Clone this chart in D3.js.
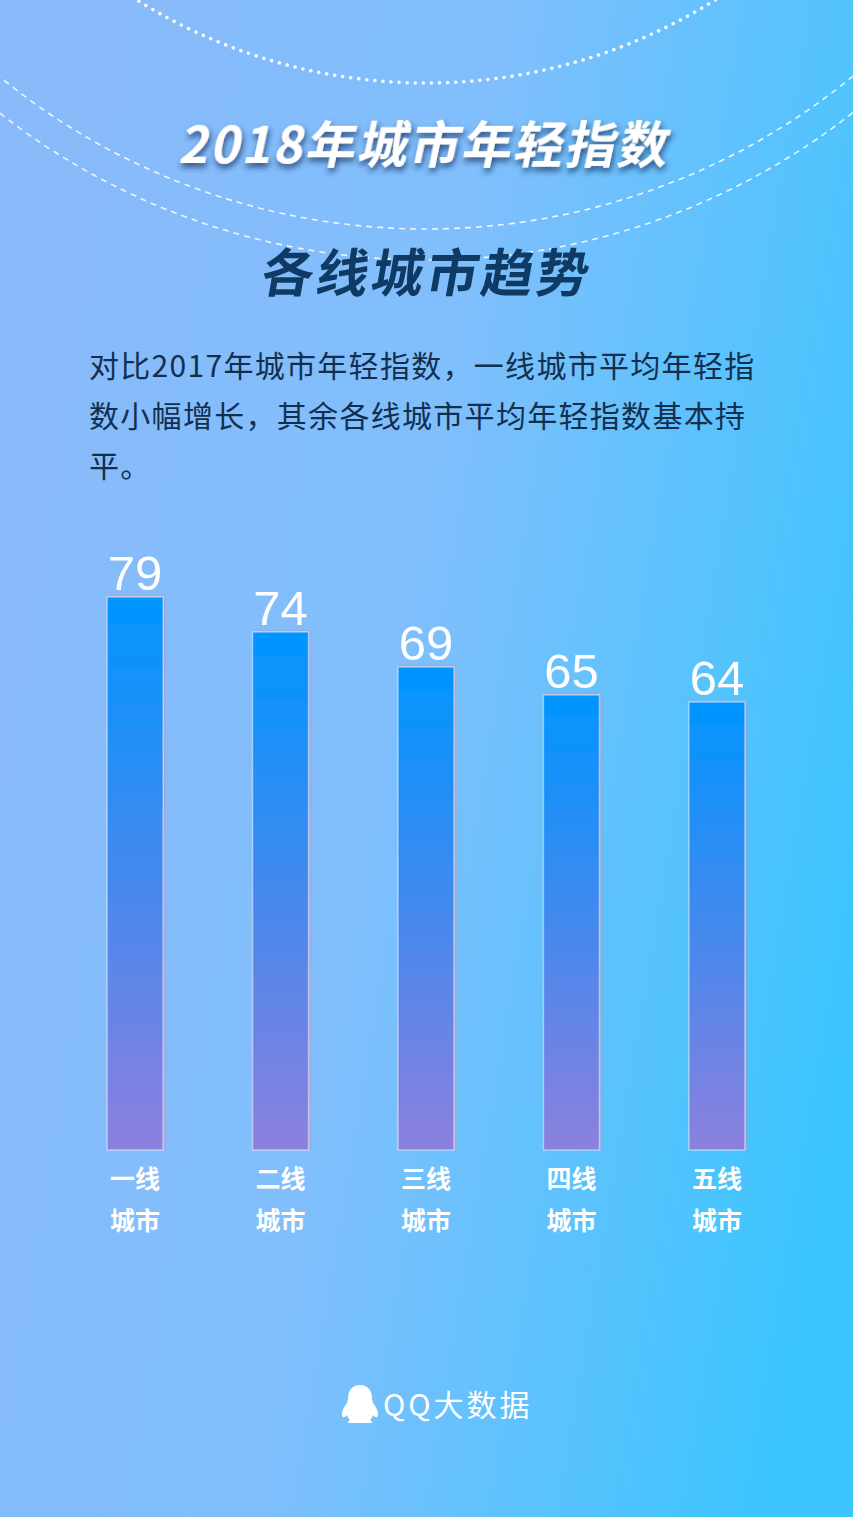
<!DOCTYPE html>
<html><head><meta charset="utf-8">
<script src="https://cdn.jsdelivr.net/npm/d3@7"></script>
<style>
html,body{margin:0;padding:0;width:853px;height:1517px;overflow:hidden;}
svg{display:block;}
</style></head>
<body>
<script>
const categories = [["一线","城市"],["二线","城市"],["三线","城市"],["四线","城市"],["五线","城市"]];
const values = [79, 74, 69, 65, 64];
const titleText = "2018年城市年轻指数";
const subtitleText = "各线城市趋势";
const paragraph = ["对比2017年城市年轻指数，一线城市平均年轻指","数小幅增长，其余各线城市平均年轻指数基本持","平。"];
const brandText = "QQ大数据";

const W = 853, H = 1517;
const svg = d3.select("body").append("svg").attr("width", W).attr("height", H);
const defs = svg.append("defs");

const bg = defs.append("linearGradient").attr("id","bg").attr("x1","0").attr("y1","0.35").attr("x2","1").attr("y2","0.65");
bg.append("stop").attr("offset","0").attr("stop-color","#89bafa");
bg.append("stop").attr("offset","0.45").attr("stop-color","#80bffc");
bg.append("stop").attr("offset","1").attr("stop-color","#3cc5fe");

const barG = defs.append("linearGradient").attr("id","barG").attr("x1","0").attr("y1","0").attr("x2","0").attr("y2","1");
barG.append("stop").attr("offset","0").attr("stop-color","#0095ff");
barG.append("stop").attr("offset","0.5").attr("stop-color","#4389ed");
barG.append("stop").attr("offset","1").attr("stop-color","#8c80de");

const sh = defs.append("filter").attr("id","tsh").attr("x","-20%").attr("y","-40%").attr("width","140%").attr("height","180%");
sh.append("feDropShadow").attr("dx",2).attr("dy",4).attr("stdDeviation",3).attr("flood-color","#0b2c55").attr("flood-opacity",0.75);

const bsh = defs.append("filter").attr("id","bsh").attr("x","-20%").attr("y","-5%").attr("width","140%").attr("height","110%");
bsh.append("feDropShadow").attr("dx",1.5).attr("dy",-1).attr("stdDeviation",0.8).attr("flood-color","#c28fb8").attr("flood-opacity",0.7);

svg.append("rect").attr("width",W).attr("height",H).attr("fill","url(#bg)");

// decorative circles
svg.append("circle").attr("cx",426).attr("cy",-462).attr("r",545)
  .attr("fill","none").attr("stroke","#ffffff").attr("stroke-width",3.5)
  .attr("stroke-dasharray","0.1 8").attr("stroke-linecap","round").attr("opacity",0.95);
svg.append("circle").attr("cx",426).attr("cy",-444).attr("r",673)
  .attr("fill","none").attr("stroke","#ffffff").attr("stroke-width",1.6)
  .attr("stroke-dasharray","6 5").attr("opacity",0.85);
svg.append("circle").attr("cx",426).attr("cy",-432).attr("r",692)
  .attr("fill","none").attr("stroke","#ffffff").attr("stroke-width",1.6)
  .attr("stroke-dasharray","6 5").attr("opacity",0.85);

// titles
svg.append("text").attr("x",0).attr("y",0)
  .attr("transform","translate(423,163) skewX(-12)")
  .attr("text-anchor","middle")
  .attr("font-family","'Noto Sans CJK SC', sans-serif").attr("font-weight",700)
  .attr("font-size",50).attr("fill","#ffffff").attr("filter","url(#tsh)")
  .attr("letter-spacing",2)
  .text(titleText);

svg.append("text").attr("x",0).attr("y",0)
  .attr("transform","translate(424,292) skewX(-10)")
  .attr("text-anchor","middle")
  .attr("font-family","'Noto Sans CJK SC', sans-serif").attr("font-weight",700)
  .attr("font-size",52).attr("fill","#0f3a64")
  .attr("letter-spacing",3)
  .text(subtitleText);

const para = svg.append("text")
  .attr("font-family","'Noto Sans CJK SC', sans-serif").attr("font-weight",400)
  .attr("font-size",30).attr("fill","#132f4e").attr("letter-spacing",1.3);
paragraph.forEach((line,i)=>{
  para.append("tspan").attr("x",89).attr("y",377 + i*50).text(line);
});

// chart
const baseY = 1150, plotTop = 597;
const x = d3.scaleBand().domain(d3.range(values.length)).range([62, 790]).paddingInner(0.615).paddingOuter(0.31);
const y = d3.scaleLinear().domain([0, 79]).range([baseY, plotTop]);

const g = svg.append("g");
g.selectAll("rect.bar").data(values).join("rect").attr("class","bar")
  .attr("x",(d,i)=>x(i)).attr("width",x.bandwidth())
  .attr("y",d=>y(d)).attr("height",d=>baseY-y(d))
  .attr("fill","url(#barG)").attr("stroke","rgba(255,255,255,0.45)").attr("stroke-width",1.5)
  .attr("filter","url(#bsh)");

g.selectAll("text.val").data(values).join("text").attr("class","val")
  .attr("x",(d,i)=>x(i)+x.bandwidth()/2).attr("y",d=>y(d)-7)
  .attr("text-anchor","middle")
  .attr("font-family","'Liberation Sans', Arial, sans-serif")
  .attr("font-size",49).attr("fill","#ffffff")
  .text(d=>d);

const cl = g.selectAll("text.cat").data(categories).join("text").attr("class","cat")
  .attr("text-anchor","middle")
  .attr("font-family","'Noto Sans CJK SC', sans-serif").attr("font-weight",700)
  .attr("font-size",25).attr("fill","#ffffff");
cl.each(function(d,i){
  const t = d3.select(this);
  d.forEach((s,j)=>{
    t.append("tspan").attr("x",x(i)+x.bandwidth()/2).attr("y",1188 + j*42).text(s);
  });
});

// brand
svg.append("path")
  .attr("d","M360,1385 C352,1385 348,1391 348,1398 C348,1401 347,1403 345,1406 C342,1410 341,1415 343,1417 C344,1418 346,1416 347,1415 C348,1418 349,1419 350,1420 C348,1421 347,1422 349,1423 L371,1423 C373,1422 372,1421 370,1420 C371,1419 372,1418 373,1415 C374,1416 376,1418 377,1417 C379,1415 378,1410 375,1406 C373,1403 372,1401 372,1398 C372,1391 368,1385 360,1385 Z")
  .attr("fill","#ffffff");
svg.append("text").attr("x",383).attr("y",1416)
  .attr("font-family","'Noto Sans CJK SC', sans-serif").attr("font-weight",400)
  .attr("font-size",30).attr("fill","#ffffff").attr("letter-spacing",3)
  .text(brandText);
</script>
</body></html>
